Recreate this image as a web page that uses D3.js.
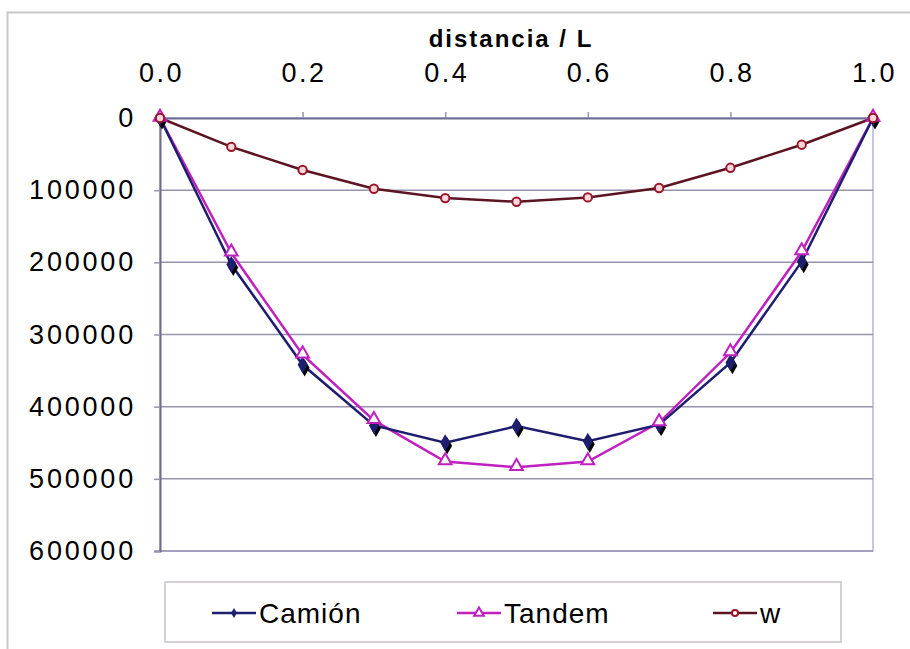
<!DOCTYPE html>
<html>
<head>
<meta charset="utf-8">
<script src="https://cdn.jsdelivr.net/npm/d3@7"></script>
<style>
  body { margin: 0; background: #fff; }
  text { font-family: "Liberation Sans", Arial, sans-serif; }
</style>
</head>
<body>
<svg id="chart" width="910" height="649"></svg>
<script>
// values
var distancia = [0.0, 0.1, 0.2, 0.3, 0.4, 0.5, 0.6, 0.7, 0.8, 0.9, 1.0];
var camion = [0, 203000, 342000, 426000, 450000, 427000, 448000, 425000, 339000, 199000, 0];
var tandem = [0, 187000, 328000, 419000, 476000, 484000, 476000, 422000, 325000, 185000, 0];
var w = [0, 40000, 72000, 98000, 111000, 116000, 110000, 97000, 69000, 37000, 0];
var xTicks = [0.0, 0.2, 0.4, 0.6, 0.8, 1.0];
var yTicks = [0, 100000, 200000, 300000, 400000, 500000, 600000];
var seriesNames = ["Camión", "Tandem", "w"];

var svg = d3.select("#chart");

var margin = {top: 118, left: 160, right: 37, bottom: 98};
var width = 910 - margin.left - margin.right;
var height = 649 - margin.top - margin.bottom;

var x = d3.scaleLinear().domain([0, 1]).range([margin.left, margin.left + width]);
var y = d3.scaleLinear().domain([0, 600000]).range([margin.top, margin.top + height]);

// outer frame (only top & left visible)
svg.append("path")
    .attr("d", "M7.5,649 L7.5,12.5 L910,12.5")
    .attr("fill", "none")
    .attr("stroke", "#c8c8c8")
    .attr("stroke-width", 2);

// plot area border
svg.append("rect")
    .attr("x", x(0)).attr("y", y(0))
    .attr("width", width).attr("height", height)
    .attr("fill", "#fff")
    .attr("stroke", "#b8b0e0")
    .attr("stroke-width", 1.5);

// gridlines
svg.append("g").selectAll("line")
    .data(yTicks.slice(1))
    .enter().append("line")
    .attr("x1", x(0)).attr("x2", x(1))
    .attr("y1", function(d){ return y(d); })
    .attr("y2", function(d){ return y(d); })
    .attr("stroke", "#9894ac")
    .attr("stroke-width", 1.5);

// top axis
var xAxis = d3.axisTop(x)
    .tickValues(xTicks)
    .tickSize(6)
    .tickPadding(30)
    .tickFormat(d3.format(".1f"));
var gx = svg.append("g")
    .attr("transform", "translate(0," + y(0) + ")")
    .call(xAxis);
gx.select(".domain").attr("stroke", "#6e6a90").attr("stroke-width", 2);
gx.selectAll(".tick line").attr("stroke", "#9894ac").attr("stroke-width", 1.5);
gx.selectAll(".tick text")
    .attr("font-size", 27)
    .attr("fill", "#000")
    .style("letter-spacing", "2.5px")
    .attr("dx", 1);

// left axis
var yAxis = d3.axisLeft(y)
    .tickValues(yTicks)
    .tickSize(6)
    .tickPadding(20)
    .tickFormat(d3.format("d"));
var gy = svg.append("g")
    .attr("transform", "translate(" + x(0) + ",0)")
    .call(yAxis);
gy.select(".domain").attr("stroke", "#6e6a90").attr("stroke-width", 2);
gy.selectAll(".tick line").attr("stroke", "#9894ac").attr("stroke-width", 1.5);
gy.selectAll(".tick text")
    .attr("font-size", 27)
    .attr("fill", "#000")
    .style("letter-spacing", "2.8px")
    .attr("dx", 2);

// axis title
svg.append("text")
    .attr("x", 511).attr("y", 47)
    .attr("text-anchor", "middle")
    .attr("font-size", 24)
    .attr("font-weight", "bold")
    .style("letter-spacing", "2px")
    .text("distancia / L");

var line = d3.line()
    .x(function(d, i){ return x(distancia[i]); })
    .y(function(d){ return y(d); });

// w series
svg.append("path")
    .datum(w)
    .attr("d", line)
    .attr("fill", "none")
    .attr("stroke", "#5c1422")
    .attr("stroke-width", 2.5);

// Tandem
svg.append("path")
    .datum(tandem)
    .attr("d", line)
    .attr("fill", "none")
    .attr("stroke", "#c020c0")
    .attr("stroke-width", 2.5);

// Camión
svg.append("path")
    .datum(camion)
    .attr("d", line)
    .attr("fill", "none")
    .attr("stroke", "#1e1e6e")
    .attr("stroke-width", 2.5);

var diamond = d3.symbol().type(d3.symbolDiamond).size(85);
var triangle = d3.symbol().type(d3.symbolTriangle).size(70);
var circle = d3.symbol().type(d3.symbolCircle).size(55);

// Camión markers (diamond with dark shadow)
svg.append("g").selectAll("path")
    .data(camion)
    .enter().append("path")
    .attr("d", diamond)
    .attr("transform", function(d, i){ return "translate(" + (x(distancia[i]) + 2) + "," + (y(d) + 3) + ")"; })
    .attr("fill", "#000");
svg.append("g").selectAll("path")
    .data(camion)
    .enter().append("path")
    .attr("d", diamond)
    .attr("transform", function(d, i){ return "translate(" + x(distancia[i]) + "," + y(d) + ")"; })
    .attr("fill", "#1e1e6e");

// Tandem markers
svg.append("g").selectAll("path")
    .data(tandem)
    .enter().append("path")
    .attr("d", triangle)
    .attr("transform", function(d, i){ return "translate(" + x(distancia[i]) + "," + (y(d) - 1) + ")"; })
    .attr("fill", "#fff")
    .attr("stroke", "#c020c0")
    .attr("stroke-width", 2);

// w markers
svg.append("g").selectAll("path")
    .data(w)
    .enter().append("path")
    .attr("d", circle)
    .attr("transform", function(d, i){ return "translate(" + x(distancia[i]) + "," + y(d) + ")"; })
    .attr("fill", "#f4d8dc")
    .attr("stroke", "#9c1428")
    .attr("stroke-width", 2);

// legend
var legend = svg.append("g");
legend.append("rect")
    .attr("x", 165).attr("y", 582)
    .attr("width", 676).attr("height", 60)
    .attr("fill", "#fff")
    .attr("stroke", "#c8c0cc")
    .attr("stroke-width", 1.5);

var legColors = ["#1e1e6e", "#c020c0", "#5c1422"];
var legX = [212, 457, 713];

seriesNames.forEach(function(name, i){
    var g = legend.append("g").attr("transform", "translate(" + legX[i] + ",613)");
    g.append("line")
        .attr("x1", 0).attr("x2", 44)
        .attr("stroke", legColors[i])
        .attr("stroke-width", 2.5);
    var s = g.append("path")
        .attr("d", i == 0 ? d3.symbol().type(d3.symbolDiamond).size(30) : (i == 1 ? d3.symbol().type(d3.symbolTriangle).size(40) : d3.symbol().type(d3.symbolCircle).size(30)))
        .attr("transform", "translate(22,0)");
    if(i == 0) s.attr("fill", legColors[0]);
    else if(i == 1) s.attr("fill", "#fff").attr("stroke", "#c020c0").attr("stroke-width", 2);
    else s.attr("fill", "#fff").attr("stroke", "#9c1428").attr("stroke-width", 2);
    g.append("text")
        .attr("x", 47).attr("y", 10)
        .attr("font-size", 28)
        .style("letter-spacing", "1px")
        .attr("fill", "#000")
        .text(name);
});
</script>
</body>
</html>
